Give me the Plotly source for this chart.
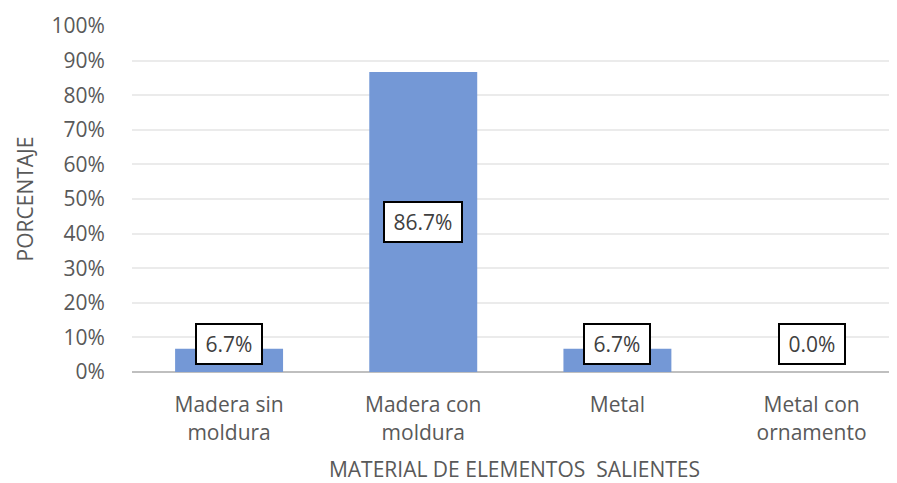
import plotly.graph_objects as go

categories = ["Madera sin<br>moldura", "Madera con<br>moldura", "Metal", "Metal con<br>ornamento"]
values = [6.7, 86.7, 6.7, 0.0]
labels = ["6.7%", "86.7%", "6.7%", "0.0%"]
y_ticks = list(range(0, 101, 10))
y_tick_text = [f"{t}%" for t in y_ticks]

FONT = "Open Sans, Noto Sans, sans-serif"
GRAY = "#595959"

# page body has an 8px margin, so the figure is 8px smaller and shifted
fig = go.Figure()
fig.add_trace(go.Bar(
    x=list(range(len(categories))), y=values,
    marker=dict(color="#7498D6", line=dict(width=0)),
    width=0.556, hoverinfo="skip",
))

for i, (v, t) in enumerate(zip(values, labels)):
    ly = v / 2 if v > 50 else 8.1
    fig.add_annotation(
        x=i, y=ly, xref="x", yref="y", text="\u2009" + t + "\u2009", showarrow=False,
        font=dict(family=FONT, size=21, color="#404040"),
        bgcolor="white", bordercolor="black", borderwidth=2, borderpad=5,
    )

fig.update_layout(
    width=889, height=475,
    margin=dict(l=124, r=0, t=18, b=111),
    paper_bgcolor="white", plot_bgcolor="white",
    showlegend=False,
    font=dict(family=FONT, color=GRAY),
    xaxis=dict(
        range=[-0.5, 3.44],
        tickvals=list(range(len(categories))), ticktext=categories,
        tickfont=dict(size=21, color=GRAY),
        showgrid=False, zeroline=False,
        showline=False, ticks="outside", ticklen=14, tickcolor="rgba(0,0,0,0)",
        title=dict(text="MATERIAL DE ELEMENTOS&nbsp; SALIENTES", font=dict(size=21, color=GRAY), standoff=20),
        automargin=False,
    ),
    yaxis=dict(
        range=[0, 100], tickvals=y_ticks, ticktext=y_tick_text,
        tickfont=dict(size=21, color=GRAY),
        showgrid=True, gridcolor="#ebebeb", gridwidth=1.5,
        zeroline=True, zerolinecolor="#bfbfbf", zerolinewidth=2,
        ticks="outside", ticklen=22, tickcolor="rgba(0,0,0,0)",
        title=dict(text="PORCENTAJE", font=dict(size=21, color=GRAY), standoff=12),
        automargin=False,
    ),
)

fig.write_html("out.html")
